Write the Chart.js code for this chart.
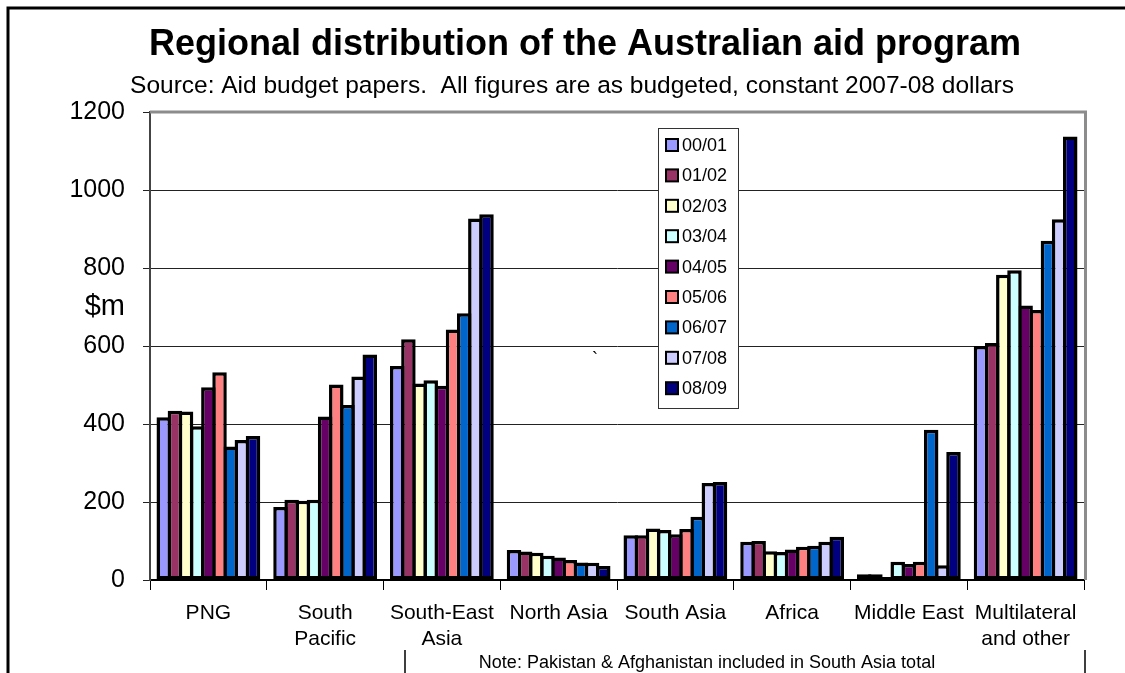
<!DOCTYPE html>
<html>
<head>
<meta charset="utf-8">
<title>Regional distribution of the Australian aid program</title>
<script src="https://cdn.jsdelivr.net/npm/chart.js@4.4.1/dist/chart.umd.min.js"></script>
<style>
  html, body { margin: 0; padding: 0; background: #fff; }
  #wrap { position: relative; width: 1125px; height: 673px; }
</style>
</head>
<body>
<div id="wrap"><canvas id="c" width="1125" height="673"></canvas></div>
<script>
var regions = [["PNG"], ["South", "Pacific"], ["South-East", "Asia"], ["North Asia"], ["South Asia"], ["Africa"], ["Middle East"], ["Multilateral", "and other"]];
var years = ["00/01", "01/02", "02/03", "03/04", "04/05", "05/06", "06/07", "07/08", "08/09"];
var yTicks = [0, 200, 400, 600, 800, 1000, 1200];

// $m per region, one array per budget year
var y0001 = [417, 187, 549, 77, 115, 98, 15, 600];
var y0102 = [434, 206, 617, 73, 115, 100, 15, 608];
var y0203 = [432, 203, 504, 70, 132, 74, 8, 783];
var y0304 = [394, 206, 512, 62, 128, 72, 47, 794];
var y0405 = [494, 419, 498, 58, 117, 78, 41, 704];
var y0506 = [533, 501, 642, 51, 131, 85, 47, 692];
var y0607 = [342, 449, 684, 45, 162, 88, 385, 870];
var y0708 = [359, 522, 927, 44, 249, 98, 38, 925];
var y0809 = [369, 578, 938, 36, 251, 111, 328, 1137];

var seriesValues = [y0001, y0102, y0203, y0304, y0405, y0506, y0607, y0708, y0809];
var colors = ["#9999FF", "#993366", "#FFFFCC", "#CCFFFF", "#660066", "#FF8080", "#0066CC", "#CCCCFF", "#000080"];

var FONT = "'Liberation Sans', Arial, sans-serif";

var datasets = years.map(function(y, i) {
    return {
        label: y,
        data: seriesValues[i],
        backgroundColor: colors[i],
        borderColor: "#000",
        borderWidth: 3.5,
        borderSkipped: false,
        categoryPercentage: 0.86,
        barPercentage: 1.3
    };
});

var decorations = {
    id: "decorations",
    beforeDraw: function(chart) {
        var ctx = chart.ctx;
        ctx.save();
        // slide frame
        ctx.strokeStyle = "#000";
        ctx.lineWidth = 3;
        ctx.beginPath();
        ctx.moveTo(8, 673);
        ctx.lineTo(8, 8);
        ctx.lineTo(1125, 8);
        ctx.stroke();
        ctx.lineWidth = 1.5;
        ctx.beginPath();
        ctx.moveTo(405, 650); ctx.lineTo(405, 673);
        ctx.moveTo(1085, 650); ctx.lineTo(1085, 673);
        ctx.stroke();
        ctx.restore();
    },
    afterDatasetsDraw: function(chart) {
        var ctx = chart.ctx;
        var a = chart.chartArea;
        ctx.save();
        // grey frame on top and right of plot area
        ctx.strokeStyle = "#8c8c8c";
        ctx.lineWidth = 3;
        ctx.beginPath();
        ctx.moveTo(a.left, a.top);
        ctx.lineTo(a.right + 1.5, a.top);
        ctx.lineTo(a.right + 1.5, a.bottom);
        ctx.stroke();

        ctx.fillStyle = "#000";
        ctx.textBaseline = "middle";
        ctx.textAlign = "center";
        ctx.font = "bold 36px " + FONT;
        ctx.fillText("Regional distribution of the Australian aid program", 585, 45);
        ctx.font = "24.5px " + FONT;
        ctx.fillText("Source: Aid budget papers.  All figures are as budgeted, constant 2007-08 dollars", 572, 86);
        ctx.font = "18px " + FONT;
        ctx.fillText("Note: Pakistan & Afghanistan included in South Asia total", 707, 663);
        ctx.fillText("`", 595, 360);

        // y axis title, horizontal
        ctx.textAlign = "right";
        ctx.font = "29px " + FONT;
        ctx.fillText("$m", 125, chart.scales.y.getPixelForValue(700));

        // legend box
        var lx = 658, ly = 128, lw = 80, lh = 280;
        ctx.fillStyle = "#fff";
        ctx.fillRect(lx, ly, lw, lh);
        ctx.strokeStyle = "#333";
        ctx.lineWidth = 1;
        ctx.strokeRect(lx + 0.5, ly + 0.5, lw, lh);
        ctx.font = "18px " + FONT;
        ctx.textAlign = "left";
        chart.data.datasets.forEach(function(ds, i) {
            var cy = 145 + i * 30.4;
            ctx.fillStyle = "#000";
            ctx.fillRect(665, cy - 7, 14, 14);
            ctx.fillStyle = ds.backgroundColor;
            ctx.fillRect(667, cy - 5, 10, 10);
            ctx.fillStyle = "#000";
            ctx.fillText(ds.label, 682, cy + 1);
        });
        ctx.restore();
    }
};

new Chart(document.getElementById("c"), {
    type: "bar",
    data: { labels: regions, datasets: datasets },
    options: {
        responsive: false,
        animation: false,
        devicePixelRatio: 1,
        layout: { padding: { top: 112, right: 41, bottom: 0, left: 0 } },
        plugins: {
            legend: { display: false },
            title: { display: false },
            tooltip: { enabled: false }
        },
        scales: {
            x: {
                afterFit: function(s) { s.height = 93; },
                grid: { offset: true, drawOnChartArea: false, drawTicks: true, tickLength: 10, color: "#000", lineWidth: 1 },
                border: { display: true, color: "#000", width: 2 },
                ticks: {
                    autoSkip: false, maxRotation: 0, padding: 10, color: "#000",
                    font: { family: FONT, size: 21, lineHeight: 1.24 }
                }
            },
            y: {
                min: 0,
                max: 1200,
                afterFit: function(s) { s.width = 150; },
                afterBuildTicks: function(s) { s.ticks = yTicks.map(function(v) { return { value: v }; }); },
                grid: { color: "#222", lineWidth: 1, tickLength: 7 },
                border: { display: true, color: "#444", width: 2 },
                ticks: {
                    padding: 18, color: "#000", font: { family: FONT, size: 25 },
                    callback: function(v) { return String(v); }
                }
            }
        }
    },
    plugins: [decorations]
});
</script>
</body>
</html>
